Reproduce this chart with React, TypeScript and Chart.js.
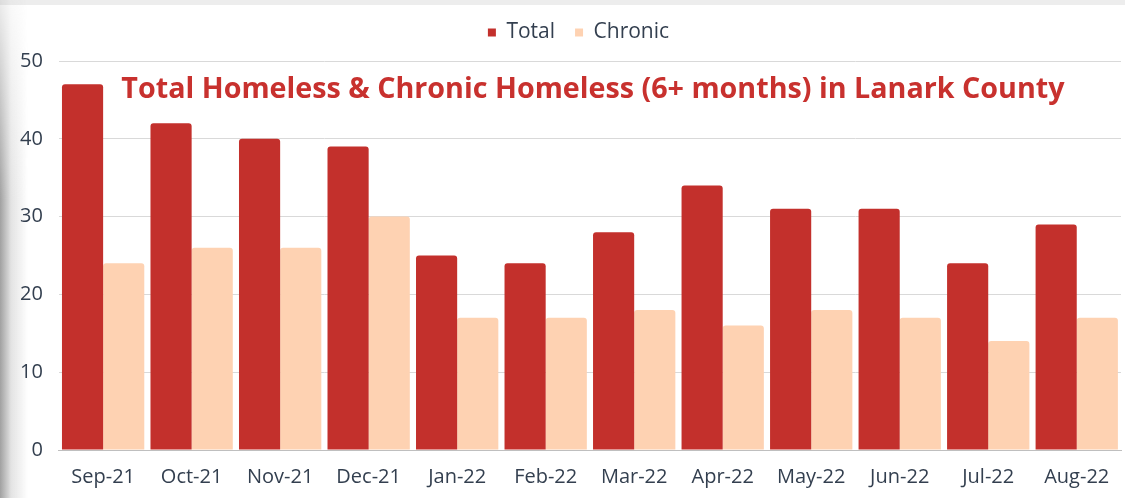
import React, { useEffect, useRef } from "react";
import { Chart, registerables } from "chart.js";

Chart.register(...registerables);

const categories = ["Sep-21", "Oct-21", "Nov-21", "Dec-21", "Jan-22", "Feb-22", "Mar-22", "Apr-22", "May-22", "Jun-22", "Jul-22", "Aug-22"];
const totalValues = [47, 42, 40, 39, 25, 24, 28, 34, 31, 31, 24, 29];
const chronicValues = [24, 26, 26, 30, 17, 17, 18, 16, 18, 17, 14, 17];
const yTicks = [0, 10, 20, 30, 40, 50];
const titleText = "Total Homeless & Chronic Homeless (6+ months) in Lanark County";

const RED = "#c3302c";
const PEACH = "#fed2b2";
const FONT = "'Open Sans', 'Noto Sans', sans-serif";

const innerTitle = {
  id: "innerTitle",
  afterDatasetsDraw(chart: any) {
    const { ctx, chartArea } = chart;
    ctx.save();
    ctx.font = `bold 28.7px ${FONT}`;
    ctx.fillStyle = "#c8312e";
    ctx.textAlign = "center";
    ctx.textBaseline = "middle";
    ctx.fillText(titleText, (chartArea.left + chartArea.right) / 2 + 3, chartArea.top + 29);
    ctx.restore();
  },
};

const legendSpacer = {
  id: "legendSpacer",
  beforeInit(chart: any) {
    const orig = chart.legend.fit;
    chart.legend.fit = function () {
      orig.call(this);
      this.height += 10;
    };
  },
  afterLayout(chart: any) {
    const lg = chart.legend;
    lg.left += 16;
    lg.right += 16;
    lg.top += 2;
    lg.bottom += 2;
  },
};

export default function App() {
  const ref = useRef<HTMLCanvasElement>(null);
  useEffect(() => {
    if (!ref.current) return;
    const chart = new Chart(ref.current, {
      type: "bar",
      data: {
        labels: categories,
        datasets: [
          { label: "Total", data: totalValues, backgroundColor: RED, borderRadius: { topLeft: 3, topRight: 3 } as any, borderSkipped: "bottom" },
          { label: "Chronic", data: chronicValues, backgroundColor: PEACH, borderRadius: { topLeft: 3, topRight: 3 } as any, borderSkipped: "bottom" },
        ],
      },
      plugins: [innerTitle, legendSpacer],
      options: {
        responsive: false,
        animation: false,
        datasets: { bar: { categoryPercentage: 0.93, barPercentage: 1.0 } },
        layout: { padding: { left: 4, right: 4, top: 0, bottom: -6 } },
        plugins: {
          legend: {
            position: "top",
            labels: {
              usePointStyle: true,
              pointStyle: "rect",
              boxWidth: 8,
              boxHeight: 8,
              padding: 20,
              color: "#333f4f",
              font: { family: FONT, size: 21 },
            },
          },
          tooltip: { enabled: false },
          title: { display: false },
        },
        scales: {
          x: {
            grid: { display: false, drawTicks: false },
            border: { display: true, color: "#bfbfbf" },
            ticks: { color: "#333f4f", font: { family: FONT, size: 20 }, padding: 15, maxRotation: 0 },
          },
          y: {
            min: 0,
            max: 50,
            afterBuildTicks(axis: any) {
              axis.ticks = yTicks.map((v) => ({ value: v }));
            },
            grid: { color: "#d9d9d9", drawTicks: false },
            border: { display: false },
            ticks: { color: "#333f4f", font: { family: FONT, size: 20 }, padding: 16 },
          },
        },
      },
    });
    return () => chart.destroy();
  }, []);

  return (
    <div style={{ position: "fixed", left: 0, top: 0, width: 1125, height: 498, background: "#ffffff", overflow: "hidden" }}>
      <div style={{ position: "absolute", left: 0, top: 0, width: 1125, height: 5, background: "#ededed" }} />
      <div
        style={{
          position: "absolute",
          left: 0,
          top: 0,
          width: 28,
          height: 498,
          background: "linear-gradient(to right, rgba(150,150,150,0.9), rgba(200,200,200,0.5) 40%, rgba(255,255,255,0))",
          WebkitMaskImage: "linear-gradient(to bottom, rgba(0,0,0,0.2), rgba(0,0,0,1) 40%)",
        }}
      />
      <canvas ref={ref} width={1125} height={498} style={{ position: "absolute", left: 0, top: 0 }} />
    </div>
  );
}
